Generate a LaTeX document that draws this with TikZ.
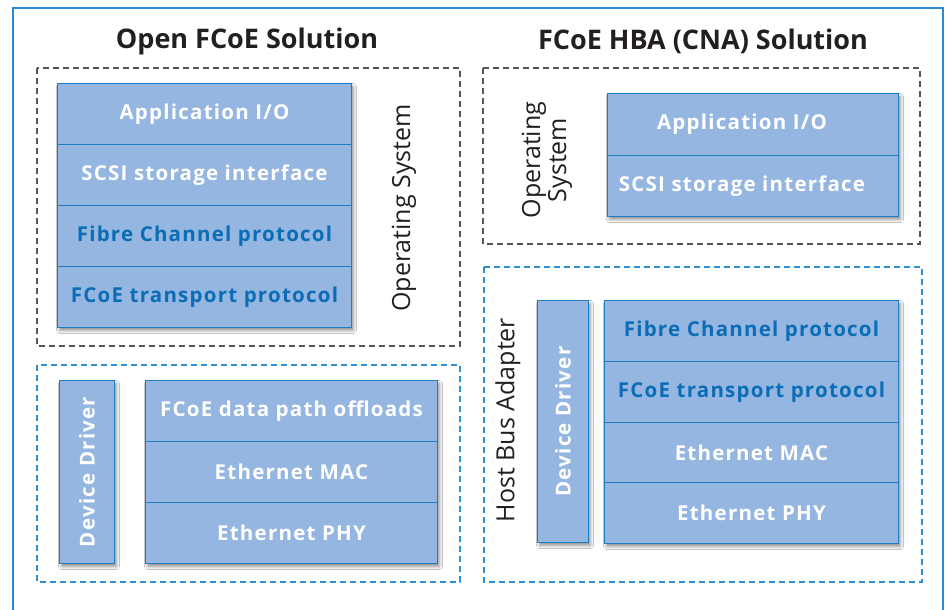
\documentclass[tikz,border=0pt]{standalone}
\usepackage{fontspec}
\setmainfont{Open Sans}
\newfontfamily\boxfont{Open Sans}[LetterSpace=6]
\usetikzlibrary{shadows.blur}
\definecolor{fillblue}{HTML}{94B6E0}
\definecolor{edgeblue}{HTML}{1F7BC2}
\definecolor{textblue}{HTML}{0B6DB6}
\definecolor{frameblue}{HTML}{2A8AD0}
\definecolor{dashgray}{HTML}{555555}
\definecolor{dashblue}{HTML}{2F8FD5}
\definecolor{titleblack}{HTML}{231F20}
\begin{document}
\begin{tikzpicture}[x=1pt,y=-1pt,
  stackbg/.style={draw=edgeblue, line width=1pt, fill=fillblue, anchor=north west, inner sep=0pt,
    blur shadow={shadow blur steps=6, shadow xshift=2pt, shadow yshift=-3pt, shadow blur radius=3pt, shadow opacity=45}},
  rowbox/.style={draw=edgeblue, line width=1pt, fill=fillblue, anchor=north west, inner sep=0pt,
    font=\boxfont\fontsize{20.5}{24}\bfseries},
  ddtext/.style={inner sep=0pt, font=\boxfont\fontsize{20.5}{24}\bfseries, text=white, rotate=90},
  wtext/.style={text=white},
  btext/.style={text=textblue},
  osbox/.style={draw=dashgray, line width=1.3pt, dash pattern=on 6pt off 4pt},
  hbabox/.style={draw=dashblue, line width=1.3pt, dash pattern=on 6pt off 4pt},
  sidelabel/.style={rotate=90, font=\fontsize{25}{26}\selectfont, text=titleblack, align=center},
  titletext/.style={font=\fontsize{27}{30}\bfseries, text=titleblack}]
\useasboundingbox (0,0) rectangle (946,610);
\fill[white] (0,0) rectangle (946,610);
\draw[frameblue, line width=2.5pt] (13,8) rectangle (943,640);

% titles
\node[titletext] (t1) at (247,41) {Open FCoE Solution};
\node[titletext] (t2) at (703,41) {FCoE HBA (CNA) Solution};

% left: operating system
\draw[osbox] (37,68) rectangle (460,346);
\node[stackbg, minimum width=294pt, minimum height=244pt] (ls) at (57,83) {};
\node[rowbox, wtext, minimum width=294pt, minimum height=61pt] (l1) at (57,83) {Application I/O};
\node[rowbox, wtext, minimum width=294pt, minimum height=61pt] (l2) at (57,144) {SCSI storage interface};
\node[rowbox, btext, minimum width=294pt, minimum height=61pt] (l3) at (57,205) {Fibre Channel protocol};
\node[rowbox, btext, minimum width=294pt, minimum height=61pt] (l4) at (57,266) {FCoE transport protocol};
\node[sidelabel] (los) at (404,208) {Operating System};

% left: device driver
\draw[hbabox] (37,365) rectangle (460,582);
\node[stackbg, minimum width=55pt, minimum height=183pt] (ldd) at (59,380) {};
\node[ddtext] (lddt) at (ldd.center) {Device Driver};
\node[stackbg, minimum width=292pt, minimum height=183pt] (lb) at (145,380) {};
\node[rowbox, wtext, minimum width=292pt, minimum height=61pt] (lb1) at (145,380) {FCoE data path offloads};
\node[rowbox, wtext, minimum width=292pt, minimum height=61pt] (lb2) at (145,441) {Ethernet MAC};
\node[rowbox, wtext, minimum width=292pt, minimum height=61pt] (lb3) at (145,502) {Ethernet PHY};

% right: operating system
\draw[osbox] (483,68) rectangle (920,244);
\node[stackbg, minimum width=291pt, minimum height=123pt] (rs) at (607,93) {};
\node[rowbox, wtext, minimum width=291pt, minimum height=62pt] (r1) at (607,93) {Application I/O\hspace*{22pt}};
\node[rowbox, wtext, minimum width=291pt, minimum height=61pt] (r2) at (607,155) {SCSI storage interface\hspace*{22pt}};
\node[sidelabel] (ros) at (547,160) {Operating\\System};

% right: host bus adapter
\draw[hbabox] (484,267) rectangle (922,582);
\node[sidelabel] (rhba) at (508,420) {Host Bus Adapter};
\node[stackbg, minimum width=51pt, minimum height=242pt] (rdd) at (537,300) {};
\node[ddtext] (rddt) at (rdd.center) {Device Driver};
\node[stackbg, minimum width=294pt, minimum height=243pt] (rb) at (604,300) {};
\node[rowbox, btext, minimum width=294pt, minimum height=61pt] (rb1) at (604,300) {Fibre Channel protocol};
\node[rowbox, btext, minimum width=294pt, minimum height=61pt] (rb2) at (604,361) {FCoE transport protocol};
\node[rowbox, wtext, minimum width=294pt, minimum height=60pt] (rb3) at (604,422) {Ethernet MAC};
\node[rowbox, wtext, minimum width=294pt, minimum height=61pt] (rb4) at (604,482) {Ethernet PHY};
\end{tikzpicture}
\end{document}
